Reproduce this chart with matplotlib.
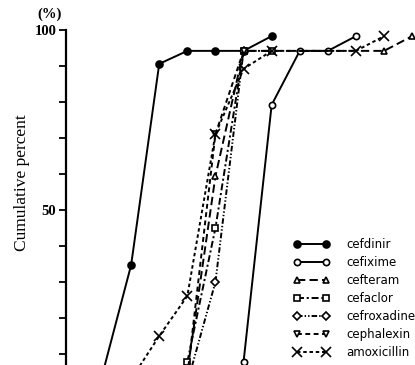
import matplotlib
matplotlib.use('Agg')
import matplotlib.pyplot as plt

plt.rcParams.update({
    'lines.scale_dashes': False,
    'font.family': 'DejaVu Sans',
})

# x = two-fold concentration step index, y = cumulative percent of strains
cefdinir_x = [0, 1, 2, 3, 4, 5, 6]
cefdinir_y = [5.0, 34.7, 90.6, 94.2, 94.2, 94.2, 98.3]

cefixime_x = [5, 6, 7, 8, 9]
cefixime_y = [7.8, 79.2, 94.2, 94.2, 98.3]

cefteram_x = [3, 4, 5, 10, 11]
cefteram_y = [5.0, 59.4, 94.2, 94.2, 98.3]

cefaclor_x = [3, 4, 5, 6]
cefaclor_y = [7.8, 45.0, 94.2, 94.2]

cefroxadine_x = [3, 4, 5]
cefroxadine_y = [2.0, 30.0, 94.2]

cephalexin_x = [3, 4, 5]
cephalexin_y = [4.0, 71.1, 94.2]

amoxicillin_x = [1, 2, 3, 4, 5, 6, 9, 10]
amoxicillin_y = [3.0, 15.0, 26.1, 71.1, 89.2, 94.2, 94.2, 98.3]

series = [
    ('cefdinir', cefdinir_x, cefdinir_y, '-', 'o', 'black', 5),
    ('cefixime', cefixime_x, cefixime_y, '-', 'o', 'white', 4.5),
    ('cefteram', cefteram_x, cefteram_y, (0, (6, 3)), '^', 'white', 4.5),
    ('cefaclor', cefaclor_x, cefaclor_y, (0, (5, 2, 1.5, 2)), 's', 'white', 4.5),
    ('cefroxadine', cefroxadine_x, cefroxadine_y, (0, (4, 1.5, 1, 1.5, 1, 1.5)), 'D', 'white', 4.2),
    ('cephalexin', cephalexin_x, cephalexin_y, (0, (3.5, 2.5)), 'v', 'white', 4.5),
    ('amoxicillin', amoxicillin_x, amoxicillin_y, (0, (2.5, 2)), 'x', 'black', 6.5),
]

fig = plt.figure(figsize=(4.15, 3.65), dpi=100)
W, H = 415.0, 365.0
# axes deliberately extends past the bottom/right edge (cropped figure)
ax = fig.add_axes([66 / W, -25 / H, (W - 66) / W, 360 / H])

for name, xs, ys, ls, mk, fc, ms in series:
    ax.plot(xs, ys, color='black', linestyle=ls, linewidth=1.4,
            marker=mk, markersize=ms, markerfacecolor=fc,
            markeredgecolor='black', markeredgewidth=1.2,
            label=name, clip_on=False, zorder=3)

ax.set_xlim(-1.317, 11.1)
ax.set_ylim(0, 100)

for s in ['top', 'right', 'bottom']:
    ax.spines[s].set_visible(False)
ax.spines['left'].set_linewidth(1.6)
ax.set_xticks([])
ax.set_yticks(range(0, 101, 10))
ax.set_yticklabels(['100' if v == 100 else '50' if v == 50 else '' for v in range(0, 101, 10)],
                   family='Liberation Serif', fontweight='bold', fontsize=10.5)
ax.tick_params(axis='y', direction='out', length=5, width=1.3, pad=2)

fig.text(50 / W, 1 - 14 / H, '(%)', ha='center', va='center',
         family='Liberation Serif', fontweight='bold', fontsize=10.5)
fig.text(22 / W, 1 - 183 / H, 'Cumulative percent', ha='center', va='center',
         rotation=90, family='Liberation Serif', fontsize=12.5)

ax.legend(loc='upper left', bbox_to_anchor=(293 / W, 1 - 238 / H),
          bbox_transform=fig.transFigure, frameon=False, numpoints=2,
          handlelength=3.1, handletextpad=1.4, labelspacing=0.42,
          borderpad=0, borderaxespad=0, fontsize=8.5)

fig.savefig('out.png', dpi=100)
